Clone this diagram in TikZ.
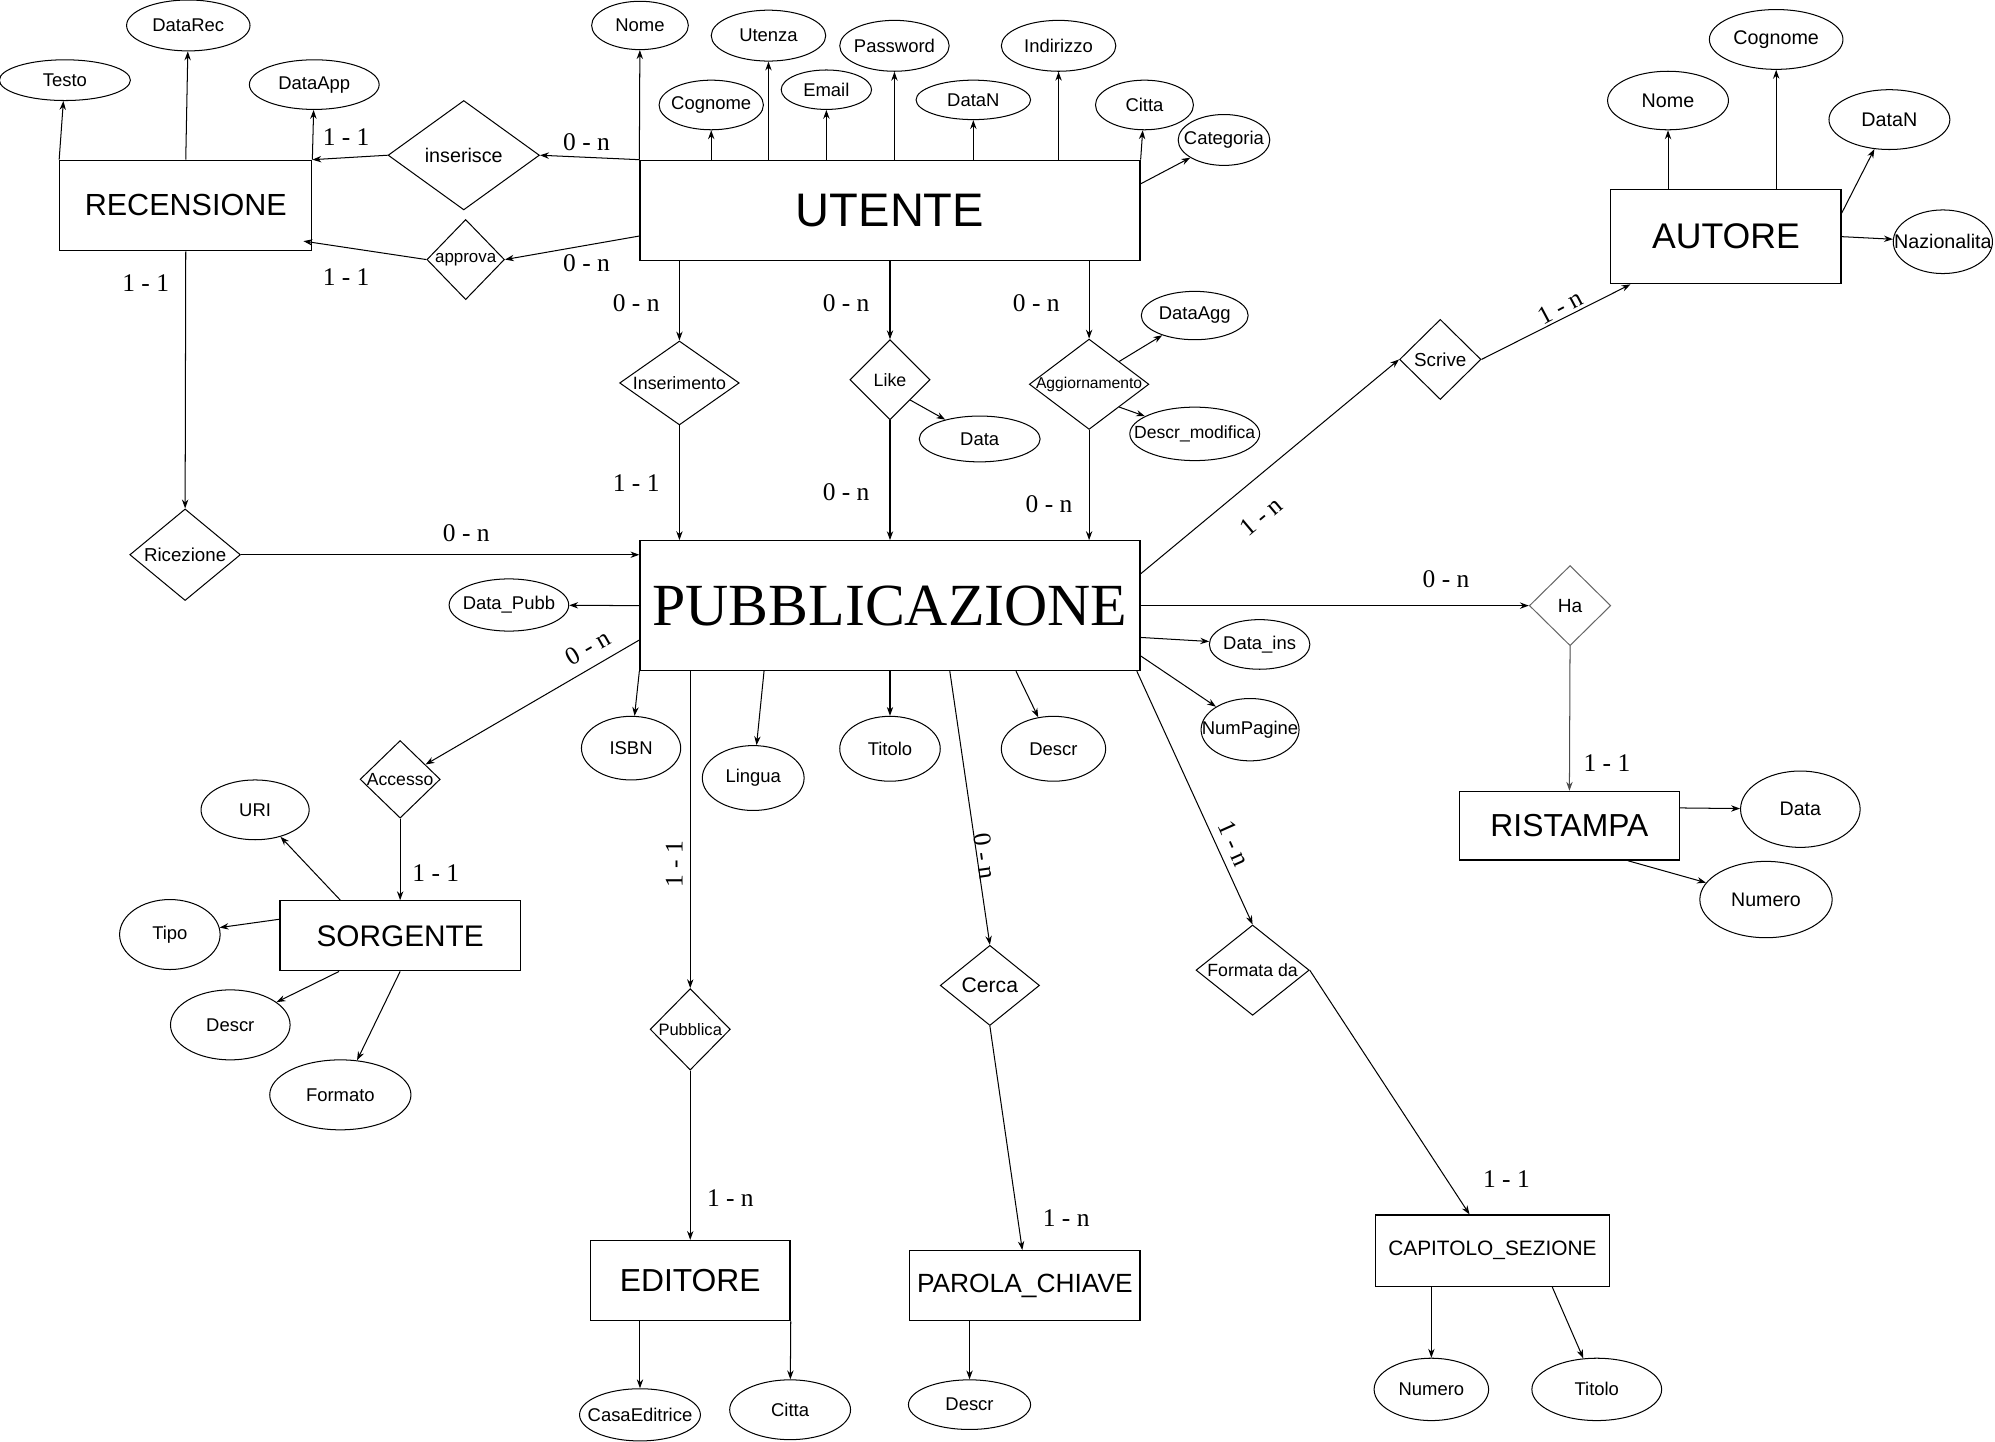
\documentclass[tikz,border=0pt]{standalone}
\usepackage{fontspec}
\setmainfont{Liberation Serif}
\setsansfont{Liberation Sans}
\usetikzlibrary{shapes.geometric,arrows.meta}

\begin{document}
\begin{tikzpicture}[
  x=1pt, y=-1pt,
  line width=0.8pt,
  sz/.style 2 args={minimum width=#1pt, minimum height=#2pt},
  fs/.style={font=\sffamily\fontsize{#1}{#1}\selectfont},
  zerow/.style={execute at begin node={\hbox to 0pt\bgroup\hss},
                execute at end node={\hss\egroup}},
  ent/.style={draw, line width=1pt, inner sep=0pt, fs=24},
  rel/.style={diamond, draw, inner sep=0pt, zerow, fs=14},
  attr/.style={ellipse, draw, inner sep=0pt, zerow, fs=14.5},
  card/.style={inner sep=0pt, font=\fontsize{20}{20}\selectfont},
  arr/.style={-{Stealth[length=7pt,width=5pt]}}
]
\useasboundingbox (0,0) rectangle (1568,1133);

% entities
\node[ent, sz={198}{71}] (rec) at (146,161.5) {RECENSIONE};
\node[ent, sz={393}{79}, fs=37] (ut) at (699.5,165.5) {UTENTE};
\node[ent, sz={181}{74}, fs=28] (aut) at (1356.5,186) {AUTORE};
\node[ent, sz={393}{102}, font=\fontsize{47}{48}\selectfont] (pub) at (699.5,476) {PUBBLICAZIONE};
\node[ent, sz={173}{54}, fs=25] (ris) at (1233.5,649) {RISTAMPA};
\node[ent, sz={189}{55}, fs=23.4] (sorg) at (314.5,735.5) {SORGENTE};
\node[ent, sz={157}{63}, fs=25] (edit) at (542.5,1006.5) {EDITORE};
\node[ent, sz={181}{55}, fs=20.7] (parola) at (805.5,1010.5) {PAROLA\_CHIAVE};
\node[ent, sz={184}{56}, fs=16.4] (cap) at (1173,983) {CAPITOLO\_SEZIONE};

% relationships
\node[rel, sz={119}{86}, fs=15.5] (ins) at (364.5,122) {inserisce};
\node[rel, sz={61}{63}, fs=13.3] (appr) at (366,204) {approva};
\node[rel, sz={94}{66}] (insm) at (534,301) {Inserimento};
\node[rel, sz={63}{63}] (like) at (699.5,298.5) {Like};
\node[rel, sz={94}{71}, fs=12.3] (aggiorn) at (856,302) {Aggiornamento};
\node[rel, sz={87}{72}, fs=14.7] (ricez) at (145.5,436) {Ricezione};
\node[rel, sz={64}{63}, fs=14.8] (scrive) at (1132,282.5) {Scrive};
\node[rel, sz={64}{63}, fs=15, draw=black!60] (ha) at (1234,476) {Ha};
\node[rel, sz={63}{61}, fs=13.8] (accesso) at (314.5,612.5) {Accesso};
\node[rel, sz={63}{64}, fs=13] (pubbl) at (542.5,809) {Pubblica};
\node[rel, sz={78}{63}, fs=16.6] (cerca) at (778,774.5) {Cerca};
\node[rel, sz={89}{71}, fs=13.9] (formata) at (984.5,762.5) {Formata da};

% attributes
\node[attr, sz={103}{32}] (testo) at (51,63) {Testo};
\node[attr, sz={97}{40}] (datarec) at (148,20) {DataRec};
\node[attr, sz={102}{39}] (dataapp) at (247,66.5) {DataApp};
\node[attr, sz={76}{38}] (unome) at (503,20) {Nome};
\node[attr, sz={90}{40}] (utenza) at (604,28) {Utenza};
\node[attr, sz={82}{39}] (ucogn) at (559,82.5) {Cognome};
\node[attr, sz={71}{31}] (email) at (649.5,70.5) {Email};
\node[attr, sz={86}{40}] (pwd) at (703,36) {Password};
\node[attr, sz={90}{31}] (udatan) at (765,78.5) {DataN};
\node[attr, sz={90}{40}] (indir) at (832,36) {Indirizzo};
\node[attr, sz={77}{39}] (ucitta) at (899.5,82.5) {Citta};
\node[attr, sz={72}{40}] (categ) at (962,110) {Categoria};
\node[attr, sz={95}{46}, fs=15.5] (anome) at (1311,79) {Nome};
\node[attr, sz={105}{47}, fs=15.5] (acogn) at (1396,31) {Cognome};
\node[attr, sz={95}{47}, fs=15.5] (adatan) at (1485,94) {DataN};
\node[attr, sz={78}{50}, fs=15.5] (anaz) at (1527,190) {Nazionalita};
\node[attr, sz={84}{38}] (dataagg) at (939,248) {DataAgg};
\node[attr, sz={102}{42}, fs=13.8] (descrmod) at (939,341) {Descr\_modifica};
\node[attr, sz={95}{36}] (ldata) at (770,345) {Data};
\node[attr, sz={94}{41}] (datapubb) at (400,475.5) {Data\_Pubb};
\node[attr, sz={79}{39}] (datains) at (990,506.5) {Data\_ins};
\node[attr, sz={77}{49}] (numpag) at (982.5,573.5) {NumPagine};
\node[attr, sz={78}{50}] (isbn) at (496,588) {ISBN};
\node[attr, sz={80}{51}] (lingua) at (592,611.5) {Lingua};
\node[attr, sz={79}{51}] (ptitolo) at (699.5,588.5) {Titolo};
\node[attr, sz={82}{51}] (pdescr) at (828,588.5) {Descr};
\node[attr, sz={94}{60}, fs=15.4] (rdata) at (1415,636) {Data};
\node[attr, sz={104}{60}, fs=15.4] (rnum) at (1388,707) {Numero};
\node[attr, sz={85}{47}] (uri) at (200.5,636.5) {URI};
\node[attr, sz={79}{55}] (tipo) at (133.5,734.5) {Tipo};
\node[attr, sz={94}{55}] (sdescr) at (181,805.5) {Descr};
\node[attr, sz={111}{55}] (formato) at (267.5,860.5) {Formato};
\node[attr, sz={95}{41}] (casaed) at (503,1112) {CasaEditrice};
\node[attr, sz={95}{47}] (ecitta) at (621,1108) {Citta};
\node[attr, sz={96}{39}] (kdescr) at (762,1104) {Descr};
\node[attr, sz={90}{49}] (cnum) at (1125,1092) {Numero};
\node[attr, sz={102}{49}] (ctitolo) at (1255,1092) {Titolo};

% attribute links
\draw[arr] (ut.north west) -- (unome);
\draw[arr] (ut.north -| ucogn) -- (ucogn);
\draw[arr] (ut.north -| utenza) -- (utenza);
\draw[arr] (ut.north -| email) -- (email);
\draw[arr] (ut.north -| pwd) -- (pwd);
\draw[arr] (ut.north -| udatan) -- (udatan);
\draw[arr] (ut.north -| indir) -- (indir);
\draw[arr] (ut.north east) -- (ucitta);
\draw[arr] ([yshift=-19pt]ut.north east) -- (categ);
\draw[arr] (aut.north -| anome) -- (anome);
\draw[arr] (aut.north -| acogn) -- (acogn);
\draw[arr] ([yshift=-19pt]aut.north east) -- (adatan);
\draw[arr] (aut.east) -- (anaz);
\draw[arr] (rec.north west) -- (testo);
\draw[arr] (rec.north) -- (datarec);
\draw[arr] (rec.north east) -- (dataapp);
\draw[arr] (like.south east) -- (ldata);
\draw[arr] (aggiorn.north east) -- (dataagg);
\draw[arr] (aggiorn.south east) -- (descrmod);
\draw[arr] (pub.west) -- (datapubb);
\draw[arr] ([yshift=-25pt]pub.east) -- (datains);
\draw[arr] ([yshift=12pt]pub.south east) -- (numpag);
\draw[arr] (pub.south west) -- (isbn);
\draw[arr] ([xshift=98pt]pub.south west) -- (lingua);
\draw[arr] (pub.south) -- (ptitolo);
\draw[arr] ([xshift=-98pt]pub.south east) -- (pdescr);
\draw[arr] ([yshift=14pt]ris.east) -- (rdata);
\draw[arr] ([xshift=46pt]ris.south) -- (rnum);
\draw[arr] ([xshift=-47pt]sorg.north) -- (uri);
\draw[arr] ([yshift=13pt]sorg.west) -- (tipo);
\draw[arr] ([xshift=-48pt]sorg.south) -- (sdescr);
\draw[arr] (sorg.south) -- (formato);
\draw[arr] (edit.south -| casaed) -- (casaed);
\draw[arr] (edit.south east) -- (ecitta);
\draw[arr] (parola.south -| kdescr) -- (kdescr);
\draw[arr] (cap.south -| cnum) -- (cnum);
\draw[arr] ([xshift=47pt]cap.south) -- (ctitolo);

% relationship links
\draw[arr] (ut.north west) -- (ins.east);
\draw[arr] (ins.west) -- (rec.north east);
\draw[arr] ([yshift=20pt]ut.south west) -- (appr.east);
\draw[arr] (appr.west) -- ([xshift=-7pt,yshift=8pt]rec.south east);
\draw[arr] (rec.south) -- (ricez.north);
\draw[arr] (ricez.east) -- (ricez.east -| pub.west);
\draw[arr] (ut.south -| insm) -- (insm.north);
\draw[arr] (insm.south) -- (insm.south |- pub.north);
\draw[arr] (ut.south) -- (like.north);
\draw[arr] (like.south) -- (pub.north);
\draw[arr] (ut.south -| aggiorn) -- (aggiorn.north);
\draw[arr] (aggiorn.south) -- (aggiorn.south |- pub.north);
\draw[arr] ([yshift=25pt]pub.east) -- (scrive.west);
\draw[arr] (scrive.east) -- ([xshift=16pt]aut.south west);
\draw[arr] (pub.east) -- (ha.west);
\draw[arr, draw=black!70] (ha.south) -- (ris.north);
\draw[arr] ([yshift=-27pt]pub.west) -- (accesso);
\draw[arr] (accesso.south) -- (sorg.north);
\draw[arr] (pub.south -| pubbl) -- (pubbl.north);
\draw[arr] (pubbl.south) -- (edit.north);
\draw[arr] ([xshift=47pt]pub.south) -- (cerca.north);
\draw[arr] (cerca.south) -- ([xshift=-2pt]parola.north);
\draw[arr] ([xshift=-3pt]pub.south east) -- (formata.north);
\draw[arr] (formata.east) -- ([xshift=-18pt]cap.north);

% cardinalities
\node[card] (kutins) at (461,112) {0 - n};
\node[card] (kinsrec) at (272,108) {1 - 1};
\node[card] (kutappr) at (461,207) {0 - n};
\node[card] (kapprrec) at (272,218) {1 - 1};
\node[card] (krecric) at (114.5,222.5) {1 - 1};
\node[card] (kricpub) at (366.5,419) {0 - n};
\node[card] (kutinsm) at (500,238) {0 - n};
\node[card] (kinsmpub) at (500,380) {1 - 1};
\node[card] (kutlike) at (665,238) {0 - n};
\node[card] (klikepub) at (665,387) {0 - n};
\node[card] (kutagg) at (814.5,238) {0 - n};
\node[card] (kaggpub) at (824.5,396) {0 - n};
\node[card, rotate=40] (kpubscr) at (991,406) {1 - n};
\node[card, rotate=28] (kscraut) at (1226,241) {1 - n};
\node[card] (kpubha) at (1136.5,455) {0 - n};
\node[card] (kharis) at (1263,600) {1 - 1};
\node[card, rotate=30] (kpubacc) at (462,509) {0 - n};
\node[card] (kaccsorg) at (342.5,686.5) {1 - 1};
\node[card, rotate=90] (kpubpubbl) at (530,679) {1 - 1};
\node[card] (kpubbledit) at (574,941.5) {1 - n};
\node[card, rotate=-82] (kpubcerca) at (774,673) {0 - n};
\node[card] (kcercapar) at (838,957.5) {1 - n};
\node[card, rotate=-66] (kpubform) at (970,663) {1 - n};
\node[card] (kformcap) at (1184,926.5) {1 - 1};
\end{tikzpicture}
\end{document}
